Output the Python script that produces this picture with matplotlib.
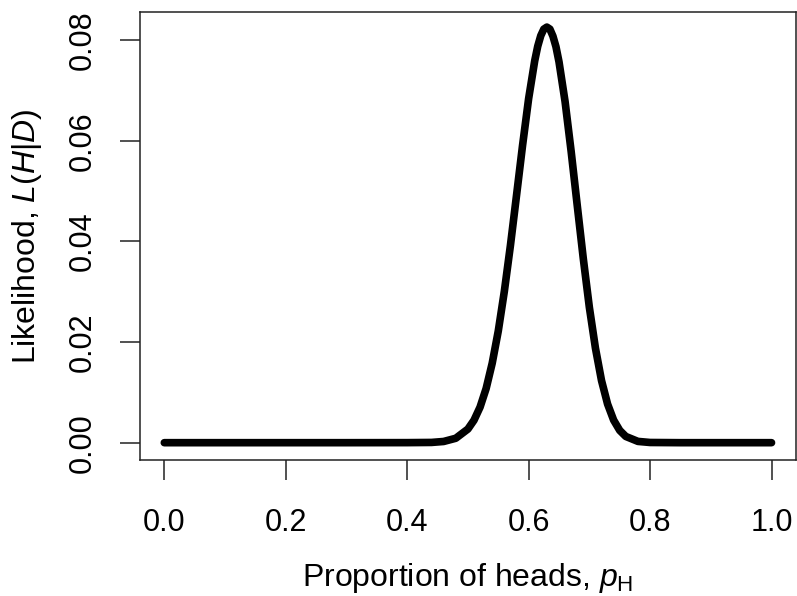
import matplotlib
matplotlib.use("Agg")
import matplotlib.pyplot as plt

plt.rcParams["font.family"] = ["Liberation Sans", "DejaVu Sans"]
plt.rcParams["mathtext.fontset"] = "custom"
plt.rcParams["mathtext.rm"] = "Liberation Sans"
plt.rcParams["mathtext.it"] = "Liberation Sans:italic"

# likelihood of the coin's proportion of heads
p_heads = [0.00, 0.10, 0.20, 0.30, 0.40, 0.44, 0.46, 0.48, 0.50, 0.51, 0.52,
           0.53, 0.54, 0.55, 0.56, 0.57, 0.58, 0.59, 0.60, 0.61, 0.615, 0.62,
           0.625, 0.63, 0.635, 0.64, 0.645, 0.65, 0.66, 0.67, 0.68, 0.69,
           0.70, 0.71, 0.72, 0.73, 0.74, 0.75, 0.76, 0.78, 0.80, 0.85, 0.90,
           1.00]
likelihood = [0.0, 0.0, 0.0, 0.0, 0.00001, 0.00005, 0.00024, 0.00088, 0.00271,
              0.00446, 0.00707, 0.01077, 0.0158, 0.0222, 0.0301, 0.0392,
              0.0491, 0.0591, 0.0684, 0.0759, 0.0788, 0.0809, 0.0822, 0.0826,
              0.0822, 0.0808, 0.0787, 0.0757, 0.0678, 0.0579, 0.0472, 0.0366,
              0.0269, 0.0188, 0.01236, 0.00768, 0.00448, 0.00244, 0.00124,
              0.000255, 0.00004, 0.0, 0.0, 0.0]

x_ticks = [0.0, 0.2, 0.4, 0.6, 0.8, 1.0]
y_ticks = [0.00, 0.02, 0.04, 0.06, 0.08]

fig = plt.figure(figsize=(7.97, 5.96), dpi=100)
ax = fig.add_axes([0.1757, 0.2282, 0.8228, 0.7525])

ax.plot(p_heads, likelihood, color="black", lw=5.5, solid_capstyle="round",
        solid_joinstyle="round")

ax.set_xlim(-0.04, 1.04)
ax.set_ylim(-0.00344, 0.0857)
ax.set_xticks(x_ticks)
ax.set_xticklabels([f"{t:.1f}" for t in x_ticks])
ax.set_yticks(y_ticks)
ax.set_yticklabels([f"{t:.2f}" for t in y_ticks], rotation=90, va="center")

ax.tick_params(axis="both", direction="out", length=14.4, width=1.1,
               labelsize=22, color="#222222")
ax.tick_params(axis="x", pad=20)
ax.tick_params(axis="y", pad=16)
for s in ax.spines.values():
    s.set_linewidth(1.1)
    s.set_color("#222222")

ax.set_xlabel("Proportion of heads, $p_{\\mathrm{H}}$", fontsize=23, labelpad=17)
ax.set_ylabel("Likelihood, $L(H|D)$", fontsize=23, labelpad=17)

fig.savefig("out.png", dpi=100)
